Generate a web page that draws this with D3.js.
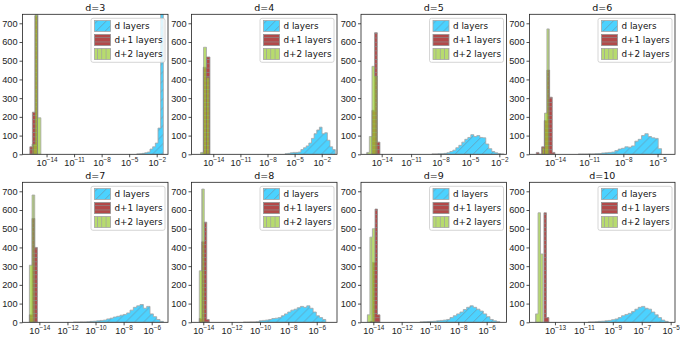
<!DOCTYPE html>
<html lang="en">
<head>
<meta charset="UTF-8">
<title>Histogramas por capas</title>
<script src="https://d3js.org/d3.v7.min.js"></script>
<style>
    body { margin: 0; background: #fff; }
    svg { display: block; font-family: "DejaVu Sans", sans-serif; }
    .axis line { stroke: #222; stroke-width: 0.8; }
    .axis text { font-size: 9.2px; fill: #222; }
    .title { font-size: 9.5px; fill: #111; }
    .legend text { font-size: 8.8px; fill: #111; }
</style>
</head>
<body>
<svg id="chart" width="680" height="340"></svg>
<script>
// Datos (exponentes en log10)
const titles = ["d=3", "d=4", "d=5", "d=6", "d=7", "d=8", "d=9", "d=10"];
const xLimits = [
    [-16.62, -0.77], [-16.41, -0.31], [-16.11, -1.27], [-16.23, -3.47],
    [-15.2, -4.84], [-14.83, -4.57], [-14.87, -4.6], [-14.76, -4.7]
];
const xTickExps = [
    [-14, -11, -8, -5, -2], [-14, -11, -8, -5, -2], [-14, -11, -8, -5, -2], [-14, -11, -8, -5],
    [-14, -12, -10, -8, -6], [-14, -12, -10, -8, -6], [-14, -12, -10, -8, -6], [-13, -11, -9, -7, -5]
];
const yTicks = [0, 100, 200, 300, 400, 500, 600, 700];
const yMax = 748;

// d layers
const dRange = [
    [-4.18, -1.28], [-6.06, -0.5], [-8.88, -1.55], [-11.96, -4.65],
    [-11.58, -5.17], [-11.18, -5.36], [-10.71, -5.06], [-10.7, -5.17]
];
const dCounts = [
    [2, 3, 5, 8, 12, 28, 40, 60, 140, 900],
    [3, 5, 8, 10, 10, 12, 25, 35, 45, 60, 85, 110, 130, 145, 110, 115, 75, 40, 25],
    [2, 2, 3, 3, 5, 8, 15, 22, 35, 48, 65, 80, 90, 105, 95, 100, 90, 88, 55, 30, 15, 8, 4, 2],
    [1, 1, 1, 2, 2, 3, 4, 7, 8, 10, 12, 20, 28, 32, 40, 38, 45, 70, 80, 100, 110, 95, 88, 85, 30],
    [1, 1, 2, 2, 3, 5, 6, 8, 10, 12, 18, 22, 28, 32, 38, 42, 50, 65, 80, 88, 95, 75, 85, 45, 30, 15, 5],
    [1, 1, 2, 2, 3, 8, 10, 12, 15, 20, 22, 25, 35, 45, 55, 65, 70, 78, 85, 80, 88, 75, 55, 35, 25, 15],
    [2, 3, 4, 5, 6, 8, 10, 12, 15, 25, 35, 45, 55, 68, 80, 88, 80, 70, 60, 45, 30, 15, 8, 3],
    [2, 2, 3, 5, 6, 8, 10, 14, 18, 25, 35, 42, 48, 58, 70, 80, 85, 75, 70, 55, 40, 25, 12, 5]
];

// d+1 layers
const d1Range = [
    [-15.82, -14.98], [-15.11, -14.37], [-14.99, -14.18], [-15.63, -14.0],
    [-14.71, -14.14], [-14.28, -13.58], [-14.23, -13.53], [-13.76, -13.42]
];
const d1Counts = [
    [40, 225, 740],
    [465, 520],
    [235, 650, 65],
    [10, 0, 40, 180, 450, 305, 10],
    [40, 555, 400],
    [20, 430, 535, 15],
    [5, 320, 605, 40],
    [585, 25]
];

// d+2 layers
const d2Range = [
    [-15.57, -14.62], [-15.4, -14.44], [-15.53, -14.45], [-15.11, -14.5],
    [-14.71, -14.33], [-14.28, -13.93], [-14.42, -13.89], [-14.34, -13.83]
];
const d2Counts = [
    [55, 745, 195],
    [10, 572, 410],
    [10, 95, 470, 418],
    [35, 220, 670],
    [305, 680],
    [275, 712],
    [40, 455, 500],
    [45, 585, 365]
];

const seriesNames = ["d layers", "d+1 layers", "d+2 layers"];
const seriesColors = ["#00bfff", "#a52a2a", "#9acd32"];
const seriesAlpha = [0.7, 0.85, 0.7];
const hatchIds = ["hatch-slash", "hatch-dash", "hatch-bar"];

// Disposición de los paneles
const colLeft = [22.5, 191.5, 361, 529.5];
const rowTop = [14.3, 182.3];
const pw = 145.5, ph = 140;

const svg = d3.select("#chart");
const defs = svg.append("defs");

// Patrones de rayado
defs.append("pattern").attr("id", "hatch-slash")
    .attr("patternUnits", "userSpaceOnUse").attr("width", 9).attr("height", 9)
    .append("path").attr("d", "M-2,2 L2,-2 M0,9 L9,0 M7,11 L11,7")
    .attr("stroke", "#35556b").attr("stroke-width", 0.6);
defs.append("pattern").attr("id", "hatch-dash")
    .attr("patternUnits", "userSpaceOnUse").attr("width", 4.3).attr("height", 4.3)
    .append("path").attr("d", "M0,2.15 H4.3")
    .attr("stroke", "#777").attr("stroke-width", 0.7);
defs.append("pattern").attr("id", "hatch-bar")
    .attr("patternUnits", "userSpaceOnUse").attr("width", 4.3).attr("height", 4.3)
    .append("path").attr("d", "M2.15,0 V4.3")
    .attr("stroke", "#777").attr("stroke-width", 0.7);

const ranges = [dRange, d1Range, d2Range];
const counts = [dCounts, d1Counts, d2Counts];

titles.forEach((title, p) => {
    const col = p % 4, row = Math.floor(p / 4);
    const g = svg.append("g")
        .attr("transform", `translate(${colLeft[col]},${rowTop[row]})`);

    const x = d3.scaleLog()
        .domain([Math.pow(10, xLimits[p][0]), Math.pow(10, xLimits[p][1])])
        .range([0, pw]);
    const y = d3.scaleLinear().domain([0, yMax]).range([ph, 0]);

    defs.append("clipPath").attr("id", "clip" + p)
        .append("rect").attr("width", pw).attr("height", ph);

    const plot = g.append("g").attr("clip-path", `url(#clip${p})`);

    // Histograma tipo "stepfilled" de cada serie
    [0, 1, 2].forEach(k => {
        const r = ranges[k][p], c = counts[k][p];
        const n = c.length;
        const pts = c.map((v, i) => ({ e: Math.pow(10, r[0] + i * (r[1] - r[0]) / n), v: v }));
        pts.push({ e: Math.pow(10, r[1]), v: c[n - 1] });

        const area = d3.area()
            .curve(d3.curveStepAfter)
            .x(d => x(d.e))
            .y0(y(0))
            .y1(d => y(d.v));

        const sg = plot.append("g").attr("opacity", seriesAlpha[k]);
        sg.append("path").attr("d", area(pts)).attr("fill", seriesColors[k]);
        sg.append("path").attr("d", area(pts))
            .attr("fill", `url(#${hatchIds[k]})`)
            .attr("stroke", "#808080")
            .attr("stroke-width", 0.8);
    });

    // Ejes
    const xAxis = g.append("g").attr("class", "axis")
        .attr("transform", `translate(0,${ph})`)
        .call(d3.axisBottom(x)
            .tickValues(xTickExps[p].map(e => Math.pow(10, e)))
            .tickSize(3).tickFormat(""));
    xAxis.select(".domain").remove();
    xAxis.selectAll(".tick text").each(function(d, i) {
        const t = d3.select(this).attr("y", 12).attr("dy", null)
            .attr("text-anchor", "middle");
        t.append("tspan").text("10");
        t.append("tspan").attr("dy", -4).attr("font-size", "6.4px")
            .text("\u2212" + Math.abs(xTickExps[p][i]));
    });

    const yAxis = g.append("g").attr("class", "axis")
        .call(d3.axisLeft(y).tickValues(yTicks).tickSize(3).tickPadding(2));
    yAxis.select(".domain").remove();

    g.append("rect").attr("width", pw).attr("height", ph)
        .attr("fill", "none").attr("stroke", "#222").attr("stroke-width", 0.8);

    g.append("text").attr("class", "title")
        .attr("x", pw / 2).attr("y", -3.4)
        .attr("text-anchor", "middle").text(title);

    // Leyenda
    const lw = 74, lh = 44;
    const lg = g.append("g").attr("class", "legend")
        .attr("transform", `translate(${pw - 3 - lw},4)`);
    lg.append("rect").attr("width", lw).attr("height", lh).attr("rx", 2)
        .attr("fill", "#fff").attr("fill-opacity", 0.8)
        .attr("stroke", "#ccc").attr("stroke-width", 0.8);
    seriesNames.forEach((name, k) => {
        const cy = 7.7 + k * 14;
        const hg = lg.append("g").attr("opacity", seriesAlpha[k]);
        hg.append("rect").attr("x", 3.5).attr("y", cy - 5.5)
            .attr("width", 16).attr("height", 11).attr("fill", seriesColors[k]);
        hg.append("rect").attr("x", 3.5).attr("y", cy - 5.5)
            .attr("width", 16).attr("height", 11)
            .attr("fill", `url(#${hatchIds[k]})`)
            .attr("stroke", "#808080").attr("stroke-width", 0.8);
        lg.append("text").attr("x", 23.5).attr("y", cy + 3.2).text(name);
    });
});
</script>
</body>
</html>
